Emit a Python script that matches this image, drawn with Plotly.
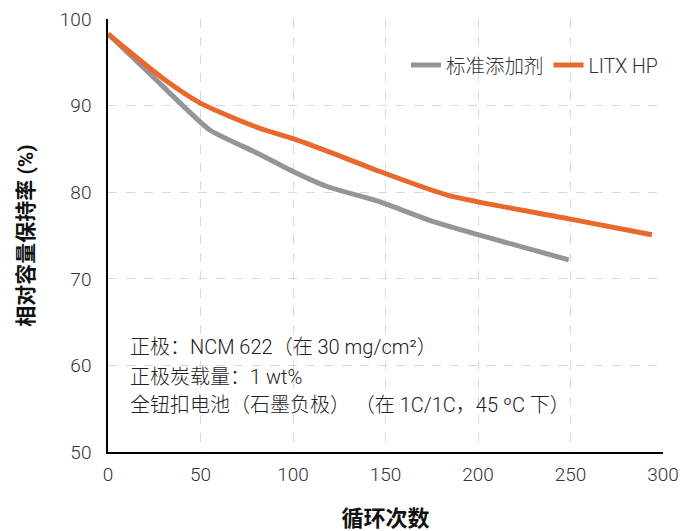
import plotly.graph_objects as go

cycles_std = [0, 25, 55, 80, 100, 118, 147, 176, 200, 249]
retention_std = [98.3, 93.2, 87.2, 84.6, 82.4, 80.7, 78.9, 76.6, 75.1, 72.2]

cycles_litx = [0, 32, 50, 82, 100, 129, 147, 183, 200, 250, 294]
retention_litx = [98.3, 92.8, 90.3, 87.4, 86.2, 83.9, 82.4, 79.7, 78.9, 76.9, 75.1]

name_std = "标准添加剂"
name_litx = "LITX HP"
x_title = "循环次数"
y_title = "相对容量保持率 (%)"
x_ticks = [0, 50, 100, 150, 200, 250, 300]
y_ticks = [50, 60, 70, 80, 90, 100]
note_lines = [
    "正极：NCM 622（在 30 mg/cm²）",
    "正极炭载量：1 wt%",
    "全钮扣电池（石墨负极） （在 1C/1C，45 ºC 下）",
]

FONT = "Roboto, 'Noto Sans CJK SC', sans-serif"
GRAY = "#939598"
ORANGE = "#E8692B"

fig = go.Figure()
fig.add_trace(go.Scatter(x=cycles_std, y=retention_std, mode="lines", name=name_std,
                         line=dict(color=GRAY, width=5, shape="spline", smoothing=0.5)))
fig.add_trace(go.Scatter(x=cycles_litx, y=retention_litx, mode="lines", name=name_litx,
                         line=dict(color=ORANGE, width=5, shape="spline", smoothing=0.8)))

line_shifts = [105, 75, 47]
for txt, ys in zip(note_lines, line_shifts):
    fig.add_annotation(x=0, y=0, xref="paper", yref="paper", xanchor="left", yanchor="middle",
                       xshift=20, yshift=ys, align="left", showarrow=False, text=txt,
                       font=dict(family=FONT, size=20, color="#222", weight=300))

tickfont = dict(family=FONT, size=19, color="#333", weight=300)
fig.update_layout(
    width=691, height=523,
    margin=dict(l=100, r=36, t=11, b=79),
    paper_bgcolor="white", plot_bgcolor="white",
    font=dict(family=FONT, color="#222"),
    showlegend=True,
    legend=dict(orientation="h", x=1, xanchor="right", y=0.893, yanchor="middle",
                font=dict(family=FONT, size=19.5, color="#333", weight=300),
                bgcolor="rgba(0,0,0,0)", itemwidth=30),
    xaxis=dict(range=[0, 300], tickvals=x_ticks, showline=True, linecolor="black", linewidth=1.5,
               showgrid=True, gridcolor="#d9d9d9", griddash="dash", gridwidth=1, automargin=False,
               zeroline=False, ticks="outside", ticklen=4, tickcolor="rgba(0,0,0,0)", tickfont=tickfont,
               ticklabeloverflow="allow",
               title=dict(text=x_title, font=dict(family=FONT, size=22, color="#111", weight="bold"), standoff=26)),
    yaxis=dict(range=[50, 100.02], tickvals=y_ticks, showline=True, linecolor="black", linewidth=1.5,
               showgrid=True, gridcolor="#d9d9d9", griddash="dash", gridwidth=1, automargin=False,
               zeroline=False, ticks="outside", ticklen=11, tickcolor="rgba(0,0,0,0)", tickfont=tickfont,
               ticklabeloverflow="allow",
               title=dict(text=y_title, font=dict(family=FONT, size=21, color="#111", weight="bold"), standoff=20)),
)

fig.write_html("out.html")
